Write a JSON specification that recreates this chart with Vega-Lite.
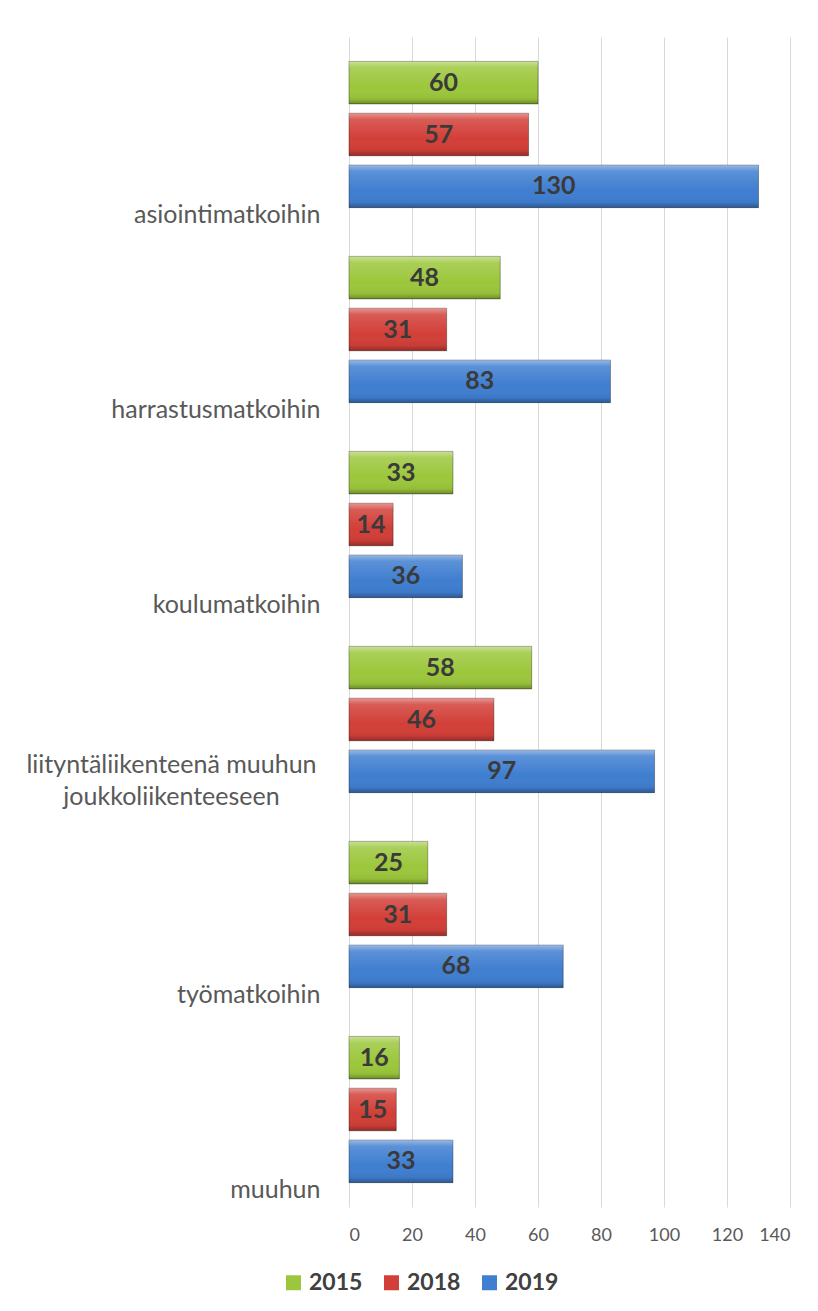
{
  "$schema": "https://vega.github.io/schema/vega-lite/v6.json",
  "autosize": {"type": "none"},
  "padding": {"left": 349, "top": 37, "right": 28, "bottom": 104},
  "width": 441,
  "height": 1170,
  "background": "white",
  "config": {"view": {"stroke": null}, "font": "Lato"},
  "data": {
    "values": [
      {"category": "asiointimatkoihin", "year": "2015", "value": 60},
      {"category": "asiointimatkoihin", "year": "2018", "value": 57},
      {"category": "asiointimatkoihin", "year": "2019", "value": 130},
      {"category": "harrastusmatkoihin", "year": "2015", "value": 48},
      {"category": "harrastusmatkoihin", "year": "2018", "value": 31},
      {"category": "harrastusmatkoihin", "year": "2019", "value": 83},
      {"category": "koulumatkoihin", "year": "2015", "value": 33},
      {"category": "koulumatkoihin", "year": "2018", "value": 14},
      {"category": "koulumatkoihin", "year": "2019", "value": 36},
      {"category": "liityntäliikenteenä muuhun joukkoliikenteeseen", "year": "2015", "value": 58},
      {"category": "liityntäliikenteenä muuhun joukkoliikenteeseen", "year": "2018", "value": 46},
      {"category": "liityntäliikenteenä muuhun joukkoliikenteeseen", "year": "2019", "value": 97},
      {"category": "työmatkoihin", "year": "2015", "value": 25},
      {"category": "työmatkoihin", "year": "2018", "value": 31},
      {"category": "työmatkoihin", "year": "2019", "value": 68},
      {"category": "muuhun", "year": "2015", "value": 16},
      {"category": "muuhun", "year": "2018", "value": 15},
      {"category": "muuhun", "year": "2019", "value": 33}
    ]
  },
  "encoding": {
    "y": {
      "field": "category",
      "type": "nominal",
      "sort": null,
      "scale": {"paddingInner": 0.25, "paddingOuter": 0.125},
      "axis": {
        "title": null,
        "domain": false,
        "ticks": false,
        "grid": false,
        "labelFontSize": 25,
        "labelColor": "#595959",
        "labelPadding": {"condition": {"test": "indexof(datum.label, 'liityntä') >= 0", "value": 178}, "value": 29},
        "labelAlign": {"condition": {"test": "indexof(datum.label, 'liityntä') >= 0", "value": "center"}, "value": "right"},
        "labelOffset": {"condition": {"test": "indexof(datum.label, 'liityntä') >= 0", "value": 45}, "value": 80},
        "labelExpr": "datum.label == 'liityntäliikenteenä muuhun joukkoliikenteeseen' ? ['liityntäliikenteenä muuhun', 'joukkoliikenteeseen'] : datum.label",
        "labelLimit": 400,
        "labelLineHeight": 32
      }
    },
    "yOffset": {
      "field": "year",
      "type": "nominal",
      "scale": {"paddingInner": 0.18, "paddingOuter": 0}
    },
    "x": {
      "field": "value",
      "type": "quantitative",
      "scale": {"domain": [0, 140], "nice": false},
      "axis": {
        "title": null,
        "values": [0, 20, 40, 60, 80, 100, 120, 140],
        "domain": false,
        "ticks": false,
        "grid": true,
        "gridColor": "#d9d9d9",
        "gridWidth": 1,
        "labelFontSize": 18,
        "labelColor": "#595959",
        "labelPadding": 19
      }
    }
  },
  "layer": [
    {
      "mark": {"type": "bar", "stroke": "rgba(0,0,0,0.35)", "strokeWidth": 1},
      "encoding": {
        "color": {
          "field": "year",
          "type": "nominal",
          "scale": {"domain": ["2015", "2018", "2019"], "range": ["#9cc73c", "#d23f38", "#3f7ed0"]},
          "legend": {
            "title": null,
            "orient": "none",
            "direction": "horizontal",
            "legendX": -67,
            "legendY": 1234,
            "symbolType": "square",
            "symbolSize": 225,
            "symbolStrokeWidth": 0,
            "labelFontSize": 23,
            "labelFontWeight": "bold",
            "labelColor": "#404040",
            "labelOffset": 4,
            "columnPadding": 17
          }
        }
      }
    },
    {
      "mark": {
        "type": "bar",
        "fill": {
          "gradient": "linear",
          "x1": 0, "y1": 0, "x2": 0, "y2": 1,
          "stops": [
            {"offset": 0, "color": "rgba(255,255,255,0.45)"},
            {"offset": 0.15, "color": "rgba(255,255,255,0.15)"},
            {"offset": 0.6, "color": "rgba(255,255,255,0)"},
            {"offset": 0.88, "color": "rgba(0,0,0,0.05)"},
            {"offset": 1, "color": "rgba(0,0,0,0.3)"}
          ]
        }
      },
      "encoding": {}
    },
    {
      "transform": [{"calculate": "datum.value / 2", "as": "mid"}],
      "mark": {"type": "text", "fontSize": 25, "fontWeight": "bold", "color": "#3a3a3a", "baseline": "middle", "align": "center"},
      "encoding": {
        "x": {"field": "mid", "type": "quantitative"},
        "text": {"field": "value", "type": "quantitative"}
      }
    }
  ]
}
